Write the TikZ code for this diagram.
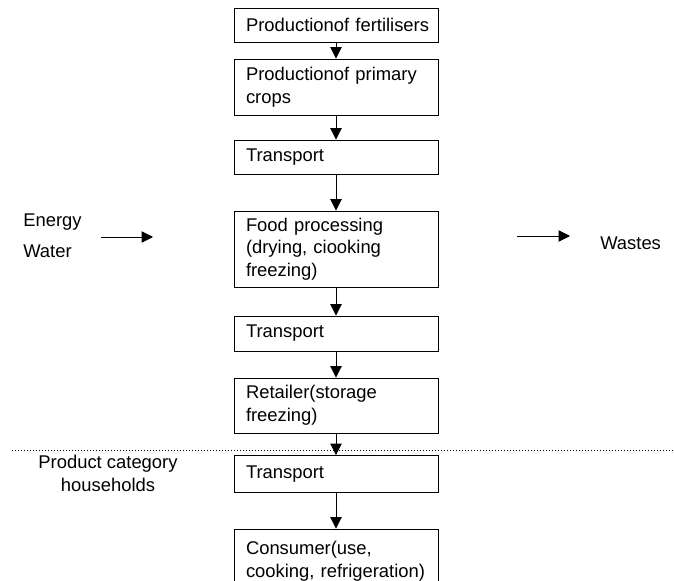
\documentclass[tikz,border=0pt]{standalone}
\usepackage{fontspec}
\setmainfont{Liberation Sans}
\usetikzlibrary{arrows.meta}
\hyphenpenalty=10000
\tikzset{
  box/.style={draw, line width=0.7pt, rectangle, text width=135pt, inner xsep=9pt, inner ysep=0pt,
              align=left, font=\fontsize{13.8pt}{17pt}\selectfont},
  lbl/.style={inner sep=0pt, font=\fontsize{13.8pt}{17pt}\selectfont},
  arr/.style={line width=0.7pt, -{Triangle[length=8.5pt,width=8.5pt]}},
}
\begin{document}
\begin{tikzpicture}[x=0.75pt, y=-0.75pt]
\clip (0,0) rectangle (674,581);
\fill[white] (0,0) rectangle (674,581);
% boxes
\node[box, minimum height=34*0.75pt] (b1) at (336,25) {\mbox{Productionof fertilisers}};
\node[box, minimum height=56*0.75pt] (b2) at (336,87) {Productionof primary\\crops};
\node[box, minimum height=34*0.75pt] (b3) at (336,157) {Transport};
\node[box, minimum height=76*0.75pt] (b4) at (336,249) {Food processing\\(drying, ciooking\\freezing)};
\node[box, minimum height=35*0.75pt] (b5) at (336,333.5) {Transport};
\node[box, minimum height=55*0.75pt] (b6) at (336,405.5) {Retailer(storage\\freezing)};
\node[box, minimum height=37*0.75pt] (b7) at (336,474) {Transport};
\node[box, minimum height=64*0.75pt] (b8) at (336,561) {Consumer(use,\\cooking, refrigeration)};
% vertical arrows
\draw[arr] (b1.south) -- (b2.north);
\draw[arr] (b2.south) -- (b3.north);
\draw[arr] (b3.south) -- (b4.north);
\draw[arr] (b4.south) -- (b5.north);
\draw[arr] (b5.south) -- (b6.north);
\draw[arr] (b6.south) -- (b7.north);
\draw[arr] (b7.south) -- (b8.north);
% side labels
\node[lbl, anchor=base west] (energy) at (23,226) {Energy};
\node[lbl, anchor=base west] (water) at (23,257) {Water};
\node[lbl, anchor=base west] (wastes) at (600,249) {Wastes};
\node[lbl, anchor=base] (pc) at (108,468) {Product category};
\node[lbl, anchor=base] (hh) at (108,491) {households};
% horizontal arrows
\coordinate (e1) at (101,237);
\coordinate (e2) at (153,237);
\coordinate (w1) at (517,236);
\coordinate (w2) at (570,236);
\draw[arr] (e1) -- (e2);
\draw[arr] (w1) -- (w2);
% dotted separator
\coordinate (d1) at (12,450);
\coordinate (d2) at (674,450);
\draw[line width=0.6pt, dash pattern=on 0.75pt off 1.5pt] (d1) -- (d2);
\end{tikzpicture}
\end{document}
